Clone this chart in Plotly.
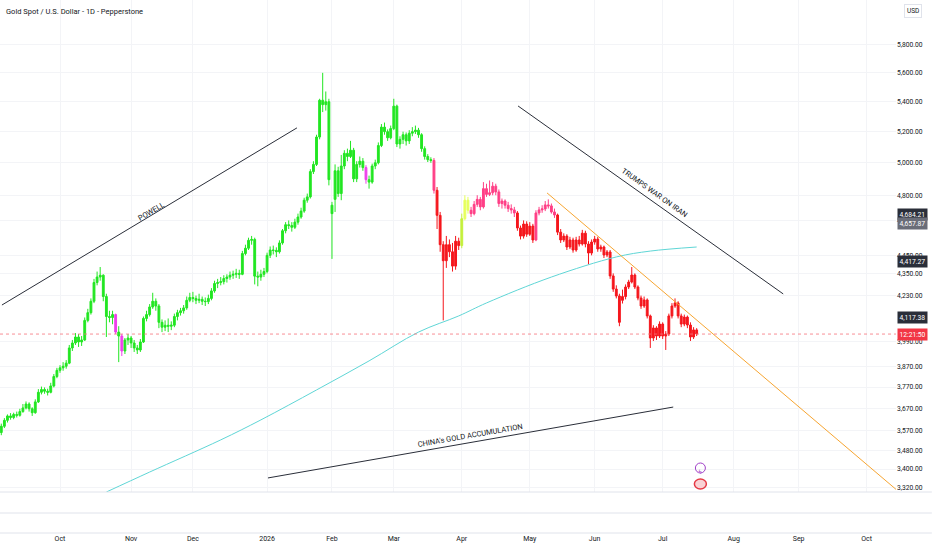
import math
import pandas as pd
import plotly.graph_objects as go

# daily candles, XAUUSD (first bar 2025-09-04, weekdays)
opens = [3560, 3588, 3615, 3635, 3628, 3642, 3638, 3655, 3672, 3690,
         3668, 3650, 3700, 3745, 3758, 3750, 3745, 3775, 3820, 3850,
         3862, 3870, 3885, 3960, 3985, 4015, 3990, 4000, 4100, 4140,
         4200, 4300, 4330, 4340, 4225, 4120, 4115, 4130, 4040, 4020,
         3945, 4000, 4010, 3985, 3960, 3950, 3990, 4110, 4130, 4170,
         4200, 4175, 4090, 4065, 4075, 4070, 4075, 4120, 4140, 4150,
         4165, 4205, 4220, 4215, 4205, 4210, 4200, 4198, 4215, 4255,
         4295, 4300, 4305, 4322, 4330, 4340, 4345, 4350, 4345, 4460,
         4490, 4535, 4540, 4335, 4330, 4345, 4360, 4450, 4480, 4478,
         4470, 4520, 4590, 4625, 4620, 4610, 4640, 4670, 4705, 4770,
         4790, 4945, 4990, 5165, 5410, 5380, 5400, 4740, 4775, 4950,
         4810, 4980, 5060, 5040, 5080, 4900, 4990, 5010, 4970, 4895,
         4880, 4980, 5000, 5110, 5230, 5200, 5160, 5220, 5370, 5120,
         5150, 5180, 5140, 5190, 5200, 5210, 5180, 5090, 5040, 5020,
         5015, 4830, 4680, 4510, 4420, 4510, 4470, 4390, 4530, 4505,
         4660, 4770, 4710, 4690, 4745, 4775, 4730, 4840, 4805, 4815,
         4855, 4820, 4750, 4765, 4740, 4720, 4712, 4694, 4606, 4559,
         4629, 4570, 4617, 4537, 4694, 4712, 4718, 4742, 4736, 4700,
         4682, 4582, 4537, 4559, 4497, 4537, 4480, 4537, 4514, 4576,
         4514, 4463, 4525, 4542, 4486, 4497, 4452, 4469, 4336, 4265,
         4228, 4205, 4225, 4276, 4303, 4341, 4276, 4217, 4175, 4207,
         4123, 4010, 4061, 4020, 4081, 4020, 4030, 4123, 4175, 4191,
         4123, 4081, 4117, 4076, 4015, 4051]
highs = [3600, 3625, 3642, 3648, 3650, 3655, 3668, 3690, 3702, 3698,
         3675, 3712, 3760, 3772, 3768, 3762, 3790, 3832, 3862, 3875,
         3890, 3900, 3975, 4000, 4035, 4030, 4020, 4115, 4160, 4215,
         4320, 4360, 4385, 4345, 4240, 4150, 4150, 4135, 4070, 4030,
         4010, 4030, 4020, 4000, 3975, 4005, 4120, 4150, 4185, 4245,
         4215, 4185, 4105, 4100, 4110, 4095, 4135, 4155, 4165, 4180,
         4225, 4245, 4250, 4230, 4240, 4225, 4220, 4235, 4270, 4310,
         4320, 4330, 4340, 4345, 4360, 4365, 4375, 4370, 4475, 4510,
         4550, 4560, 4550, 4360, 4370, 4380, 4465, 4500, 4505, 4495,
         4535, 4600, 4640, 4650, 4640, 4660, 4690, 4725, 4785, 4810,
         4960, 5010, 5180, 5420, 5600, 5470, 5420, 4760, 4990, 4975,
         5050, 5080, 5090, 5140, 5095, 5010, 5040, 5030, 4985, 4920,
         4995, 5020, 5130, 5250, 5260, 5215, 5240, 5420, 5380, 5170,
         5200, 5195, 5210, 5230, 5240, 5225, 5190, 5105, 5055, 5035,
         5030, 4850, 4700, 4530, 4560, 4540, 4520, 4560, 4550, 4690,
         4800, 4790, 4730, 4765, 4800, 4790, 4880, 4870, 4890, 4880,
         4870, 4835, 4780, 4775, 4760, 4745, 4730, 4705, 4620, 4650,
         4645, 4640, 4630, 4710, 4730, 4740, 4765, 4775, 4750, 4720,
         4690, 4600, 4575, 4570, 4555, 4550, 4555, 4560, 4595, 4590,
         4530, 4540, 4560, 4555, 4510, 4505, 4480, 4480, 4350, 4285,
         4240, 4262, 4290, 4315, 4385, 4350, 4285, 4230, 4225, 4215,
         4130, 4075, 4070, 4095, 4090, 4045, 4135, 4190, 4215, 4200,
         4135, 4130, 4125, 4090, 4065, 4060]
lows = [3548, 3580, 3605, 3618, 3620, 3628, 3632, 3650, 3665, 3655,
        3635, 3645, 3695, 3735, 3738, 3730, 3740, 3768, 3812, 3838,
        3848, 3858, 3880, 3945, 3975, 3965, 3970, 3995, 4090, 4130,
        4190, 4285, 4310, 4200, 4015, 4090, 4080, 4030, 3890, 3920,
        3930, 3975, 3960, 3940, 3930, 3940, 3985, 4095, 4120, 4160,
        4150, 4060, 4040, 4045, 4040, 4050, 4065, 4100, 4125, 4135,
        4155, 4195, 4195, 4185, 4190, 4180, 4175, 4185, 4205, 4245,
        4270, 4285, 4290, 4300, 4315, 4320, 4325, 4320, 4340, 4450,
        4480, 4510, 4290, 4280, 4310, 4330, 4350, 4435, 4455, 4440,
        4460, 4510, 4575, 4600, 4585, 4600, 4625, 4660, 4695, 4755,
        4780, 4930, 4980, 5150, 5330, 5340, 4860, 4430, 4700, 4790,
        4770, 4960, 5010, 5030, 4880, 4880, 4970, 4950, 4870, 4840,
        4870, 4960, 4990, 5100, 5180, 5140, 5150, 5210, 5100, 5090,
        5120, 5110, 5120, 5170, 5185, 5160, 5070, 5020, 5005, 5000,
        4810, 4600, 4470, 4100, 4380, 4440, 4360, 4370, 4480, 4490,
        4650, 4690, 4670, 4680, 4730, 4710, 4720, 4790, 4795, 4800,
        4800, 4730, 4720, 4720, 4700, 4690, 4670, 4590, 4540, 4545,
        4555, 4560, 4520, 4530, 4680, 4695, 4705, 4720, 4690, 4665,
        4565, 4520, 4525, 4480, 4485, 4465, 4470, 4500, 4505, 4495,
        4400, 4450, 4510, 4470, 4470, 4435, 4440, 4320, 4250, 4215,
        4070, 4188, 4210, 4265, 4295, 4265, 4205, 4160, 4165, 4110,
        3960, 3995, 4000, 4010, 4005, 3950, 4020, 4110, 4165, 4110,
        4065, 4070, 4060, 3995, 4005, 4020]
closes = [3588, 3615, 3635, 3628, 3642, 3638, 3655, 3672, 3690, 3668,
          3650, 3700, 3745, 3758, 3750, 3745, 3775, 3820, 3850, 3862,
          3870, 3885, 3960, 3985, 4015, 3990, 4000, 4100, 4140, 4200,
          4300, 4330, 4340, 4225, 4120, 4115, 4130, 4040, 4020, 3945,
          4000, 4010, 3985, 3960, 3950, 3990, 4110, 4130, 4170, 4200,
          4175, 4090, 4065, 4075, 4070, 4075, 4120, 4140, 4150, 4165,
          4205, 4220, 4215, 4205, 4210, 4200, 4198, 4215, 4255, 4295,
          4300, 4305, 4322, 4330, 4340, 4345, 4350, 4345, 4460, 4490,
          4535, 4540, 4335, 4330, 4345, 4360, 4450, 4480, 4478, 4470,
          4520, 4590, 4625, 4620, 4610, 4640, 4670, 4705, 4770, 4790,
          4945, 4990, 5165, 5410, 5380, 5400, 4895, 4690, 4950, 4810,
          4980, 5060, 5040, 5080, 4900, 4990, 5010, 4970, 4895, 4880,
          4980, 5000, 5110, 5230, 5200, 5160, 5220, 5370, 5120, 5150,
          5180, 5140, 5190, 5200, 5210, 5180, 5090, 5040, 5020, 5015,
          4830, 4680, 4510, 4420, 4510, 4470, 4390, 4530, 4505, 4660,
          4770, 4710, 4690, 4745, 4775, 4730, 4840, 4805, 4815, 4855,
          4820, 4750, 4765, 4740, 4720, 4712, 4694, 4606, 4559, 4629,
          4570, 4617, 4537, 4694, 4712, 4718, 4742, 4736, 4700, 4682,
          4582, 4537, 4559, 4497, 4537, 4480, 4537, 4514, 4576, 4514,
          4463, 4525, 4542, 4486, 4497, 4452, 4469, 4336, 4265, 4228,
          4090, 4225, 4276, 4303, 4341, 4276, 4217, 4175, 4207, 4123,
          4010, 4061, 4020, 4081, 4020, 4030, 4123, 4175, 4191, 4123,
          4081, 4117, 4076, 4015, 4051, 4030]
# bar colour state of the trend indicator
trend = (["g"] * 37 + ["m"] + ["g"] + ["m"] + ["g"] * 78 + ["m"] + ["g"] * 21 + ["p"]
         + ["r"] * 8 + ["yg"] + ["y"] * 2 + ["p"] * 15 + ["r"] * 6 + ["p"] * 7 + ["r"] * 46)

ma_dates = ["2025-10-22", "2025-11-11", "2025-12-12", "2025-12-31", "2026-01-26", "2026-02-18",
            "2026-03-12", "2026-03-31", "2026-04-13", "2026-05-12", "2026-06-10", "2026-06-25",
            "2026-07-16"]
ma_vals = [3303, 3387, 3527, 3617, 3756, 3896, 4040, 4123, 4191, 4330, 4441, 4474, 4497]

# drawings
powell_x = ["2025-09-04 05:00", "2026-01-15 16:00"]
powell_y = [4180, 5225]
iran_x = ["2026-04-27 05:00", "2026-08-25"]
iran_y = [5371, 4239]
china_x = ["2026-01-02 07:00", "2026-07-06 10:00"]
china_y = [3362, 3676]
resist_x = ["2026-05-08 14:00", "2026-10-14 12:00"]
resist_y = [4814, 3314]

price_ticks = [3320, 3400, 3480, 3570, 3670, 3770, 3870, 3990, 4230, 4350, 4450, 4650,
               4800, 5000, 5200, 5400, 5600, 5800]
month_ticks = ["2025-10-01", "2025-11-03", "2025-12-01", "2026-01-02", "2026-02-02", "2026-03-02",
               "2026-04-01", "2026-05-01", "2026-06-01", "2026-07-01", "2026-08-03", "2026-09-01",
               "2026-10-01"]
month_labels = ["Oct", "Nov", "Dec", "2026", "Feb", "Mar", "Apr", "May", "Jun", "Jul", "Aug", "Sep", "Oct"]

FONT = "Roboto"
INK = "#131722"
x_range = ["2025-09-03 14:00", "2026-10-14 12:00"]
event_day = "2026-07-17 05:00"

dates = pd.bdate_range("2025-09-04", periods=len(closes))
colors = {"g": "#22e622", "m": "#ee40ea", "p": "#ff3f86", "r": "#f5161c",
          "y": "#e6ff5c", "yg": "#c4f03c"}

fig = go.Figure()

for key, col in colors.items():
    pick = [t == key for t in trend]
    fig.add_trace(go.Candlestick(
        x=dates,
        open=[v if k else None for v, k in zip(opens, pick)],
        high=[v if k else None for v, k in zip(highs, pick)],
        low=[v if k else None for v, k in zip(lows, pick)],
        close=[v if k else None for v, k in zip(closes, pick)],
        increasing=dict(line=dict(color=col, width=1), fillcolor=col),
        decreasing=dict(line=dict(color=col, width=1), fillcolor=col),
        whiskerwidth=0, hoverinfo="skip", showlegend=False))

fig.add_trace(go.Scatter(x=ma_dates, y=ma_vals, mode="lines",
                         line=dict(color="#5fd6d6", width=1, shape="spline"), hoverinfo="skip"))

for xs, ys, col in [(powell_x, powell_y, "#2a2e39"), (iran_x, iran_y, "#2a2e39"),
                    (china_x, china_y, "#2a2e39"), (resist_x, resist_y, "#f7a531")]:
    fig.add_trace(go.Scatter(x=xs, y=ys, mode="lines", line=dict(color=col, width=1),
                             hoverinfo="skip"))

# last price line
fig.add_trace(go.Scatter(x=x_range, y=[closes[-1], closes[-1]], mode="lines",
                         line=dict(color="#f5707a", width=0.8, dash="dot"), hoverinfo="skip"))

ann = []
for txt, xd, yv, ang in [("POWELL", "2025-11-11 12:00", 4700, -31),
                         ("TRUMPS WAR ON IRAN", "2026-06-26 05:00", 4814, 35.4),
                         ("CHINA's GOLD ACCUMULATION", "2026-04-03 14:00", 3545, -9.9)]:
    ann.append(dict(x=xd, y=math.log10(yv), xref="x", yref="y", text=txt, showarrow=False,
                    textangle=ang, font=dict(family=FONT, size=7.5, color=INK)))

# price scale labels
for val, bg, shift in [(4684.21, "#2a2e39", 0), (4684.21, "#6a6d78", -9), (4417.27, "#2a2e39", 0),
                       (4117.38, "#2a2e39", 0)]:
    txt = "4,657.87" if shift else f"{val:,.2f}"
    ann.append(dict(x=1, y=math.log10(val), xref="paper", yref="y", xanchor="left", xshift=1,
                    yshift=shift, text=txt, showarrow=False, bgcolor=bg, borderpad=1.5,
                    font=dict(family=FONT, size=6.7, color="white")))
ann.append(dict(x=1, y=math.log10(closes[-1]), xref="paper", yref="y", xanchor="left", xshift=1,
                text="12:21:50", showarrow=False, bgcolor="#f23645", borderpad=1.5,
                font=dict(family=FONT, size=6.7, color="white")))
ann.append(dict(x=1, y=1, xref="paper", yref="paper", xanchor="left", yanchor="middle", xshift=8,
                yshift=-11, text="USD", showarrow=False, bordercolor="#e0e3eb", borderwidth=1,
                borderpad=2, font=dict(family=FONT, size=6.5, color=INK)))
ann.append(dict(x=0, y=1, xref="paper", yref="paper", xanchor="left", yanchor="middle", xshift=4,
                yshift=-11, text="Gold Spot / U.S. Dollar - 1D - Pepperstone", showarrow=False,
                font=dict(family=FONT, size=7.5, color=INK)))
ann.append(dict(x=event_day, y=1 - 468 / 533, xref="x", yref="paper", yanchor="middle",
                text="ϟ", showarrow=False, yshift=-3,
                font=dict(family="DejaVu Sans", size=6, color="#a040c8")))

pane_bottom = 1 - 492 / 533
shapes = []
for yy in [pane_bottom, 1 - 513 / 533, 0]:
    shapes.append(dict(type="line", xref="paper", yref="paper", x0=0, x1=1.04, y0=yy, y1=yy,
                       line=dict(color="#e0e3eb", width=1)))
shapes.append(dict(type="circle", xref="x", yref="paper", xsizemode="pixel", ysizemode="pixel",
                   xanchor=event_day, yanchor=1 - 468 / 533, x0=-5, x1=5, y0=-5, y1=5,
                   line=dict(color="#a040c8", width=1), fillcolor="rgba(0,0,0,0)"))
shapes.append(dict(type="circle", xref="x", yref="paper", xsizemode="pixel", ysizemode="pixel",
                   xanchor=event_day, yanchor=1 - 484 / 533, x0=-6, x1=6, y0=-5, y1=5,
                   line=dict(color="#e53945", width=1.5), fillcolor="#f9d2d5"))

fig.update_layout(
    width=932, height=550,
    margin=dict(l=0, r=36, t=0, b=17),
    paper_bgcolor="white", plot_bgcolor="white",
    showlegend=False,
    boxgap=0.15,
    font=dict(family=FONT, size=7, color=INK),
    annotations=ann, shapes=shapes,
    xaxis=dict(type="date", range=x_range, rangeslider=dict(visible=False),
               rangebreaks=[dict(bounds=["sat", "mon"])],
               tickvals=month_ticks, ticktext=month_labels, ticks="",
               showgrid=True, gridcolor="#f3f4f7", zeroline=False, showline=False,
               anchor="free", position=0, tickfont=dict(family=FONT, size=7, color=INK)),
    yaxis=dict(type="log", range=[math.log10(3303), math.log10(6138)], domain=[pane_bottom, 1],
               side="right", tickvals=price_ticks, ticktext=[f"{v:,.2f}" for v in price_ticks],
               ticks="", showgrid=True, gridcolor="#f3f4f7", zeroline=False, showline=False,
               tickfont=dict(family=FONT, size=6.7, color=INK)),
)

# page body has a default 8px margin; drop it so the figure sits at the window corner
fig.write_html("out.html", config={"displayModeBar": False},
               post_script="document.body.style.margin='0px';")
